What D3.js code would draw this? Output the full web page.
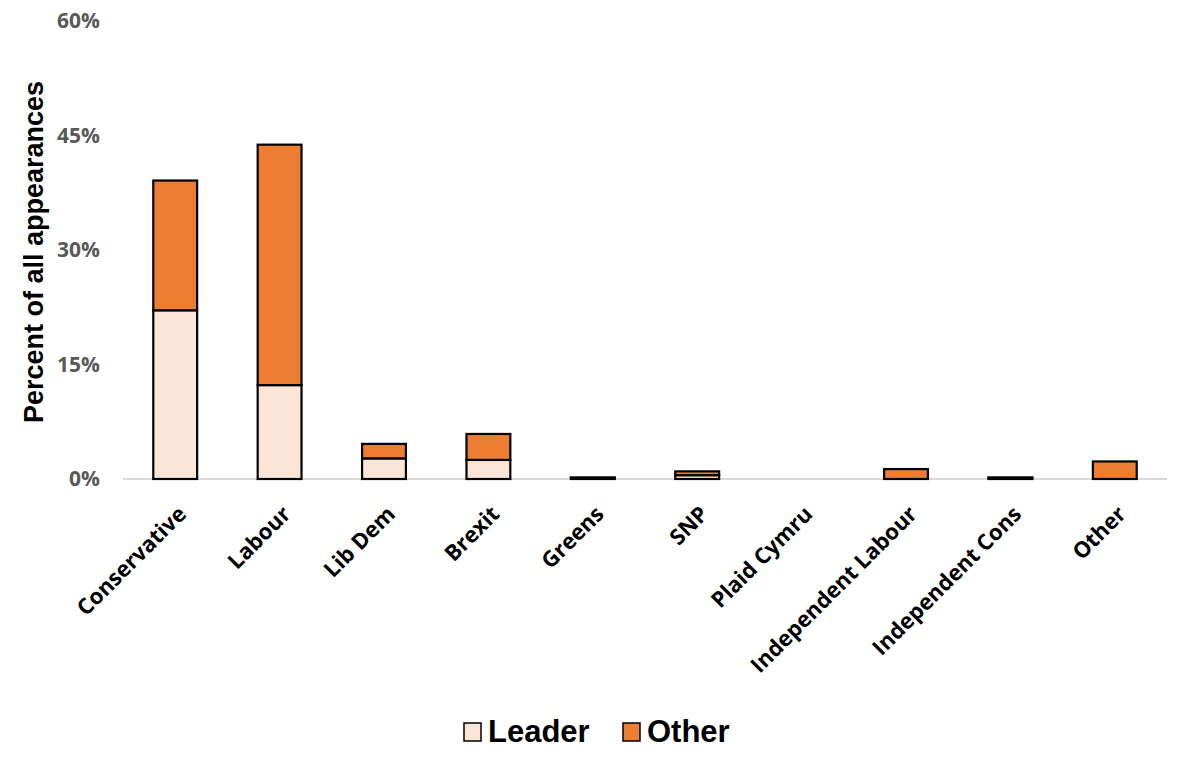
<!DOCTYPE html>
<html><head><meta charset="utf-8">
<script src="https://cdn.jsdelivr.net/npm/d3@7"></script>
<style>body{margin:0;background:#fff;}</style>
</head><body>
<svg id="c" width="1190" height="774"></svg>
<script>
const categories = ["Conservative","Labour","Lib Dem","Brexit","Greens","SNP","Plaid Cymru","Independent Labour","Independent Cons","Other"];
const leader = [22.1, 12.3, 2.7, 2.5, 0.15, 0.5, 0, 0, 0.15, 0];
const other  = [17.0, 31.5, 1.9, 3.4, 0.05, 0.5, 0, 1.3, 0.05, 2.3];
const yTicks = [0, 15, 30, 45, 60];
const seriesNames = ["Leader","Other"];
const colors = {Leader:"#FBE5D6", Other:"#ED7D31"};

const svg = d3.select("#c");
const m = {left:123, right:1167, top:21, bottom:479};
const x = d3.scaleBand().domain(categories).range([m.left, m.right]).paddingInner(0.58).paddingOuter(0.29);
const y = d3.scaleLinear().domain([0,60]).range([m.bottom, m.top]);

const rows = categories.map((c,i)=>({cat:c, Leader:leader[i], Other:other[i]}));
const stack = d3.stack().keys(seriesNames)(rows);

// baseline
svg.append("line").attr("x1",m.left).attr("x2",m.right).attr("y1",y(0)).attr("y2",y(0))
  .attr("stroke","#d9d9d9").attr("stroke-width",2);

stack.forEach(s=>{
  svg.append("g").selectAll("rect").data(s.filter(d=>d[1]-d[0]>0)).join("rect")
    .attr("x",d=>x(d.data.cat)).attr("width",x.bandwidth())
    .attr("y",d=>y(d[1])).attr("height",d=>y(d[0])-y(d[1]))
    .attr("fill",colors[s.key]).attr("stroke","#000").attr("stroke-width",2.2);
});

// y axis
const ya = svg.append("g").attr("transform",`translate(${m.left},0)`)
  .call(d3.axisLeft(y).tickValues(yTicks).tickFormat(d=>d+"%").tickSize(0).tickPadding(23));
ya.select(".domain").remove();
ya.selectAll("text").attr("font-family","'Open Sans', sans-serif").attr("font-weight","bold")
  .attr("font-size","21px").attr("fill","#595959");

// x axis labels
const xa = svg.append("g").attr("transform",`translate(0,${y(0)})`)
  .call(d3.axisBottom(x).tickSize(0).tickPadding(0));
xa.select(".domain").remove();
xa.selectAll("text")
  .attr("font-family","'Open Sans', sans-serif").attr("font-weight","bold").attr("font-size","22px")
  .attr("fill","#000").attr("text-anchor","end").attr("dy","0.35em")
  .attr("transform","translate(7,31) rotate(-45)");

// y title
svg.append("text").attr("transform",`translate(43,252) rotate(-90)`)
  .attr("text-anchor","middle").attr("font-family","'Liberation Sans', Arial, sans-serif")
  .attr("font-weight","bold").attr("font-size","27px").attr("fill","#000")
  .text("Percent of all appearances");

// legend
const lg = svg.append("g");
const legendItems = [{k:"Leader", x:464},{k:"Other", x:623}];
legendItems.forEach(it=>{
  lg.append("rect").attr("x",it.x).attr("y",723).attr("width",17).attr("height",18)
    .attr("fill",colors[it.k]).attr("stroke","#000").attr("stroke-width",1.5);
  lg.append("text").attr("x",it.x+24).attr("y",742).attr("font-family","'Liberation Sans', Arial, sans-serif")
    .attr("font-weight","bold").attr("font-size","31px").attr("fill","#000").text(it.k);
});
</script>
</body></html>
